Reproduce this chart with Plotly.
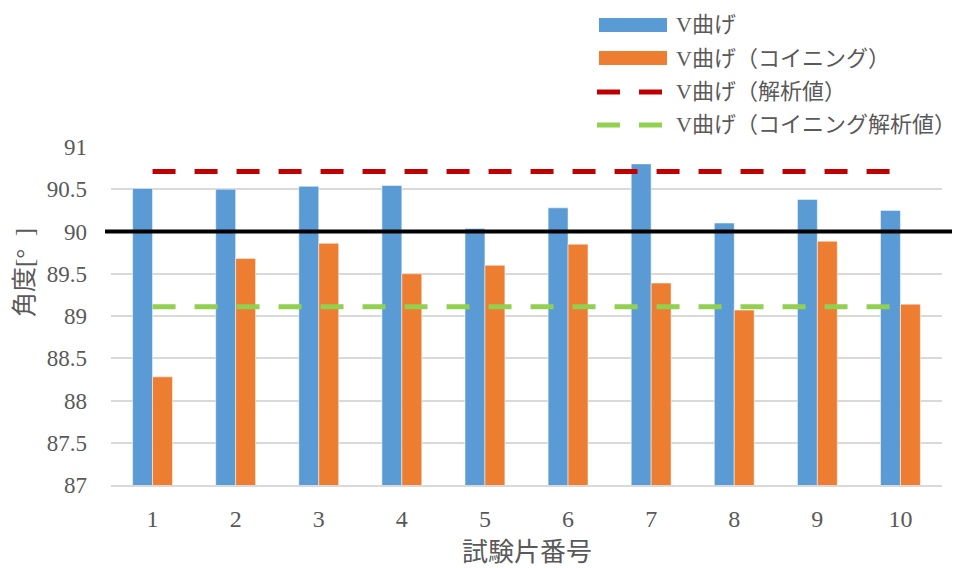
import plotly.graph_objects as go

# Specimen numbers and measured bend angles
specimens = [1, 2, 3, 4, 5, 6, 7, 8, 9, 10]
v_bend = [90.51, 90.50, 90.535, 90.545, 90.035, 90.28, 90.80, 90.10, 90.38, 90.25]
v_bend_coining = [88.28, 89.68, 89.86, 89.50, 89.60, 89.85, 89.39, 89.07, 89.885, 89.14]
v_bend_analysis = 90.71
v_bend_coining_analysis = 89.11
reference_angle = 90

names = ["V曲げ", "V曲げ（コイニング）", "V曲げ（解析値）", "V曲げ（コイニング解析値）"]
y_ticks = [87, 87.5, 88, 88.5, 89, 89.5, 90, 90.5, 91]

BLUE = "#5B9BD5"
ORANGE = "#ED7D31"
RED = "#C00000"
GREEN = "#92D050"
TEXT = "#595959"
FONT = "Liberation Serif, Noto Sans CJK JP, serif"

W, H = 966, 568
L, R, T, B = 111, 24, 147, 83
PW, PH = W - L - R, H - T - B


def px(x):
    return (x - L) / PW


def py(y):
    return (H - B - y) / PH


fig = go.Figure()
fig.add_trace(go.Bar(x=specimens, y=v_bend, name=names[0], marker_color=BLUE,
                     marker_line=dict(color="rgba(255,255,255,0.5)", width=1)))
fig.add_trace(go.Bar(x=specimens, y=v_bend_coining, name=names[1], marker_color=ORANGE,
                     marker_line=dict(color="rgba(255,255,255,0.5)", width=1)))
fig.add_trace(go.Scatter(x=specimens, y=[v_bend_analysis] * len(specimens), mode="lines",
                         name=names[2], line=dict(color=RED, width=5, dash="23px,19px")))
fig.add_trace(go.Scatter(x=specimens, y=[v_bend_coining_analysis] * len(specimens), mode="lines",
                         name=names[3], line=dict(color=GREEN, width=5, dash="23px,19px")))

# 90° reference line across the plot
fig.add_shape(type="line", xref="paper", yref="y", x0=px(105), x1=px(952),
              y0=reference_angle, y1=reference_angle, line=dict(color="black", width=4),
              layer="above")

# Legend drawn manually: long swatches at the top right
legend_rows = [24, 58, 92, 125]
fig.add_shape(type="rect", xref="paper", yref="paper", x0=px(599), x1=px(667),
              y0=py(32), y1=py(18), fillcolor=BLUE, line=dict(width=0))
fig.add_shape(type="rect", xref="paper", yref="paper", x0=px(599), x1=px(667),
              y0=py(65), y1=py(51), fillcolor=ORANGE, line=dict(width=0))
for yy, col in [(legend_rows[2], RED), (legend_rows[3], GREEN)]:
    for x0, x1 in [(597, 620), (639, 662)]:
        fig.add_shape(type="line", xref="paper", yref="paper", x0=px(x0), x1=px(x1),
                      y0=py(yy), y1=py(yy), line=dict(color=col, width=5))
for yy, name in zip(legend_rows, names):
    fig.add_annotation(text=name, xref="paper", yref="paper", x=px(674), y=py(yy),
                       xanchor="left", yanchor="middle", showarrow=False,
                       font=dict(family=FONT, size=22, color=TEXT))

# Axis titles
fig.add_annotation(text="角度[°  ]", xref="paper", yref="paper", x=px(24), y=py(273),
                   xanchor="center", yanchor="middle", textangle=-90, showarrow=False,
                   font=dict(family=FONT, size=25, color=TEXT))
fig.add_annotation(text="試験片番号", xref="paper", yref="paper", x=0.5, y=py(552),
                   xanchor="center", yanchor="middle", showarrow=False,
                   font=dict(family=FONT, size=26, color=TEXT))

fig.update_layout(
    width=W, height=H,
    margin=dict(l=L, r=R, t=T, b=B),
    paper_bgcolor="white", plot_bgcolor="white",
    barmode="group", bargap=0.52, bargroupgap=0,
    showlegend=False,
    font=dict(family=FONT, color=TEXT, size=23),
)
fig.update_xaxes(range=[0.5, 10.5], tickvals=specimens, ticktext=[str(s) for s in specimens],
                 showgrid=False, zeroline=False, showline=True, linecolor="#D9D9D9", linewidth=2,
                 ticks="", ticklabelstandoff=11, tickfont=dict(size=24, color=TEXT))
fig.update_yaxes(range=[87, 91], tickvals=y_ticks, ticktext=[f"{v:g}" for v in y_ticks],
                 showgrid=True, gridcolor="#D9D9D9", gridwidth=2, zeroline=False,
                 ticks="", ticklabelstandoff=23, tickfont=dict(size=23, color=TEXT))

fig.write_html("out.html")
